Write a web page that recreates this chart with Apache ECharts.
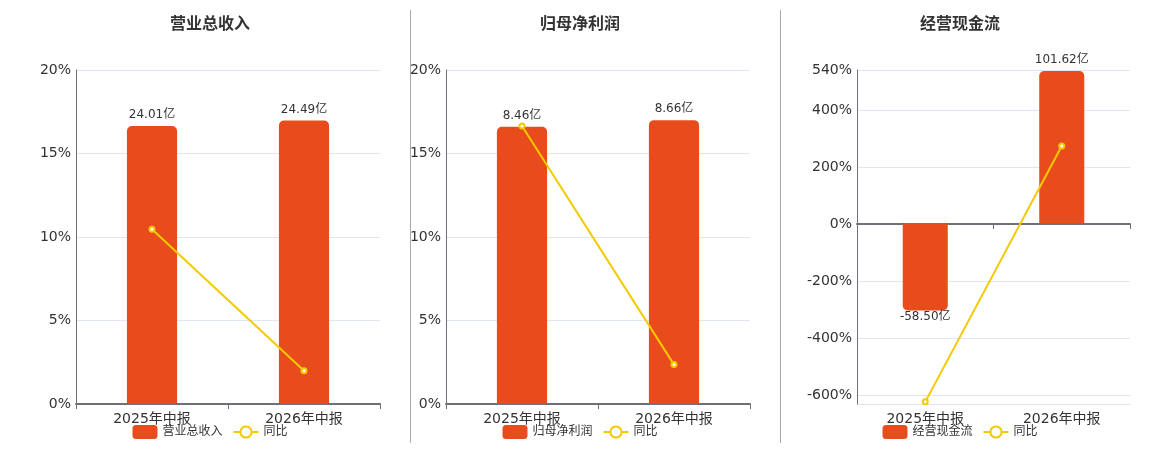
<!DOCTYPE html>
<html><head><meta charset="utf-8">
<script src="https://cdn.jsdelivr.net/npm/echarts@6/dist/echarts.min.js"></script>
<style>
html,body{margin:0;padding:0;background:#fff;}
#wrap{position:relative;width:1160px;height:450px;overflow:hidden;}
.panel{position:absolute;top:0;width:400px;height:450px;}
.divider{position:absolute;top:10px;height:433px;width:0;border-left:1px solid #aaa;}
</style></head>
<body>
<div id="wrap">
  <div class="panel" id="c1" style="left:10px"></div>
  <div class="panel" id="c2" style="left:380px"></div>
  <div class="panel" id="c3" style="left:760px"></div>
  <div class="divider" style="left:410px"></div>
  <div class="divider" style="left:780px"></div>
</div>
<script>
const categories = ['2025年中报', '2026年中报'];
const titles = ['营业总收入', '归母净利润', '经营现金流'];
const revenue = [24.01, 24.49];
const revenueYoy = [10.47, 1.99];
const profit = [8.46, 8.66];
const profitYoy = [16.65, 2.36];
const cash = [-58.50, 101.62];
const cashYoy = [-623.5, 273.7];

const BAR = '#E84C1D', LINE = '#F5C900';
const FONT = "'DejaVu Sans', 'Noto Sans CJK SC', sans-serif";

function build(el, title, bars, yoy, pct, hideMin, barRange, gridLeft, gridWidth) {
  const chart = echarts.init(document.getElementById(el), null, {renderer: 'canvas'});
  const barData = bars.map(v => ({
    value: v,
    itemStyle: {borderRadius: v >= 0 ? [5, 5, 0, 0] : [0, 0, 5, 5]},
    label: v >= 0 ? {position: 'top', distance: 5} : {position: 'bottom', distance: 0}
  }));
  chart.setOption({
    animation: false,
    textStyle: {fontFamily: FONT},
    title: {text: title, left: 'center', top: 12,
      textStyle: {fontSize: 16, fontWeight: 'bold', color: '#333', fontFamily: FONT}},
    legend: {
      bottom: 6, left: 'center', itemWidth: 25, itemHeight: 14, itemGap: 10,
      textStyle: {fontSize: 12, color: '#333', fontFamily: FONT},
      data: [{name: title}, {name: '同比'}]
    },
    grid: {left: gridLeft, width: gridWidth, top: 70, bottom: 46},
    xAxis: {
      type: 'category', data: categories,
      axisLine: {onZero: true, lineStyle: {color: '#6E7079', width: 2}},
      axisTick: {show: true, lineStyle: {color: '#6E7079'}},
      axisLabel: {fontSize: 14, color: '#333', margin: 8, fontFamily: FONT}
    },
    yAxis: [
      Object.assign({
        type: 'value',
        axisLine: {show: true, lineStyle: {color: '#6E7079'}},
        axisTick: {show: false},
        splitLine: {show: true, lineStyle: {color: '#E0E6F1'}},
        axisLabel: {fontSize: 14, color: '#333', margin: 5, fontFamily: FONT,
          formatter: v => ((hideMin && v === pct.min) ? '' : v + '%')}
      }, pct),
      {type: 'value', show: false, min: barRange[0], max: barRange[1], splitLine: {show: false}}
    ],
    series: [
      {
        name: title, type: 'bar', yAxisIndex: 1, data: barData, barWidth: '33%',
        itemStyle: {color: BAR},
        label: {show: true, fontSize: 12, color: '#333', fontFamily: FONT,
          formatter: p => p.value.toFixed(2) + '亿'}
      },
      {
        name: '同比', type: 'line', yAxisIndex: 0, data: yoy,
        symbol: 'emptyCircle', symbolSize: 5,
        lineStyle: {color: LINE, width: 2},
        itemStyle: {color: LINE, borderWidth: 1.5}
      }
    ]
  });
}

build('c1', titles[0], revenue, revenueYoy, {min: 0, max: 20, interval: 5}, false, [0, 28.85], 66, 304);
build('c2', titles[1], profit, profitYoy, {min: 0, max: 20, interval: 5}, false, [0, 10.19], 66, 304);
build('c3', titles[2], cash, cashYoy, {min: -631, max: 540}, true, [-121, 102.3], 97, 273);
</script>
</body></html>
